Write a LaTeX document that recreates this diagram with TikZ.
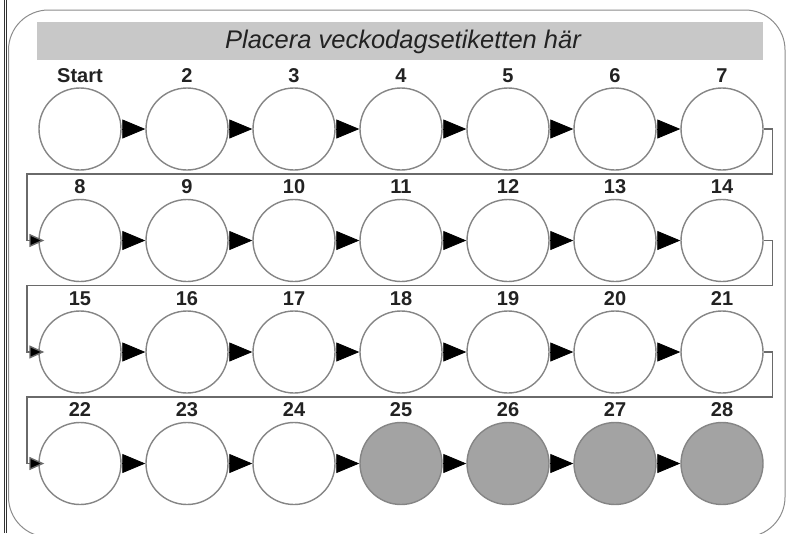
\documentclass[tikz,border=0pt]{standalone}
\usepackage{fontspec}
\setmainfont{Liberation Sans}
\usetikzlibrary{arrows.meta}
\definecolor{bargray}{HTML}{C8C8C8}
\definecolor{dotgray}{HTML}{A3A3A3}
\definecolor{edgegray}{HTML}{858585}
\definecolor{linegray}{HTML}{6A6A6A}
\definecolor{framegray}{HTML}{8C8C8C}
\definecolor{txt}{HTML}{222222}
\tikzset{
  dot/.style={circle, draw=edgegray, line width=1.4pt, minimum size=82pt, inner sep=0pt, fill=white},
  dotfull/.style={dot, fill=dotgray},
  lab/.style={font=\fontsize{20}{22}\selectfont\bfseries, text=txt, inner sep=0pt},
  bigarrow/.style={-{Triangle[length=23pt,width=19pt]}, line width=0.8pt, black},
  conn/.style={draw=linegray, line width=1.4pt, -{Triangle[length=15pt,width=13pt,fill=black]}, shorten >=-6pt},
}
\begin{document}
\begin{tikzpicture}[x=1pt,y=-1pt]
\useasboundingbox (0,0) rectangle (786,533);
\clip (0,0) rectangle (786,533);
% page edge lines
\draw[line width=1.3pt, black!80] (4.5,0) -- (4.5,533);
\draw[line width=1.3pt, black!80] (6.8,0) -- (6.8,533);
% rounded frame
\draw[framegray, line width=1pt, rounded corners=40pt] (8.5,10) rectangle (785,537);
% title bar
\fill[bargray] (37,22) rectangle (763,60);
\node[font=\fontsize{25.5}{27}\selectfont\itshape, text=txt, inner sep=0pt] (title) at (403,42) {Placera veckodagsetiketten här};
% circles
\foreach \i in {1,...,28}{
  \pgfmathsetmacro\cx{80+107*mod(\i-1,7)}
  \pgfmathsetmacro\cy{129+111.5*div(\i-1,7)}
  \ifnum\i>24
    \node[dotfull] (c\i) at (\cx,\cy) {};
  \else
    \node[dot] (c\i) at (\cx,\cy) {};
  \fi
  \node[lab] (l\i) at (\cx,\cy-53.5) {\ifnum\i=1 Start\else\i\fi};
}
% arrows within rows
\foreach \i in {1,...,6,8,9,...,13,15,16,...,20,22,23,...,27}{
  \pgfmathtruncatemacro\j{\i+1}
  \draw[bigarrow] (c\i.east) -- (c\j.west);
}
% row-end connectors
\foreach \a/\b/\y in {7/8/174,14/15/285.5,21/22/397}{
  \draw[conn] (c\a.east) -- ++(9,0) |- (27,\y) |- (c\b.west);
}
\end{tikzpicture}
\end{document}
